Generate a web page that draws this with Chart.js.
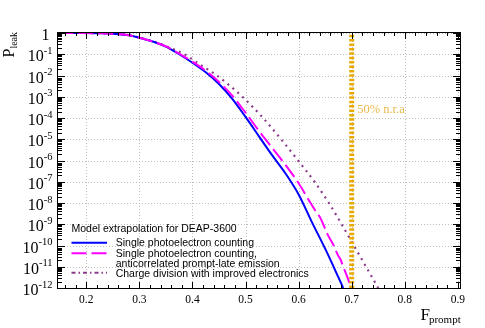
<!DOCTYPE html>
<html><head><meta charset="utf-8">
<script src="https://cdn.jsdelivr.net/npm/chart.js@4/dist/chart.umd.min.js"></script>
<style>html,body{margin:0;padding:0;background:#fff;overflow:hidden}</style>
</head><body>
<canvas id="c" width="485" height="328"></canvas>
<script>
// ---- data ----
const fSpe  = [0.147, 0.17, 0.20, 0.22, 0.25, 0.28, 0.30, 0.325, 0.35, 0.375, 0.40, 0.425, 0.45, 0.475, 0.50, 0.525, 0.55, 0.575, 0.60, 0.625, 0.65, 0.675, 0.684];
const pSpe  = [1, 1, 0.995, 0.977, 0.933, 0.776, 0.603, 0.398, 0.229, 0.1, 0.0398, 0.0141, 3.98e-3, 7.94e-4, 1.12e-4, 1.41e-5, 1.78e-6, 2.51e-7, 2.51e-8, 1.26e-9, 7.08e-11, 3.16e-12, 1e-12];
const fAnti = [0.147, 0.17, 0.20, 0.22, 0.25, 0.28, 0.30, 0.325, 0.35, 0.375, 0.40, 0.425, 0.45, 0.475, 0.50, 0.525, 0.55, 0.575, 0.60, 0.62, 0.634, 0.64, 0.655, 0.666, 0.675, 0.679, 0.684, 0.692, 0.699];
const pAnti = [1, 1, 0.995, 0.977, 0.933, 0.776, 0.603, 0.398, 0.234, 0.107, 0.0447, 0.0166, 5.01e-3, 1.12e-3, 1.78e-4, 2.51e-5, 3.98e-6, 6.31e-7, 8.51e-8, 1.26e-8, 3.5e-9, 2.2e-9, 3.16e-10, 1e-10, 3.16e-11, 2.2e-11, 1e-11, 3.16e-12, 1e-12];
const fCharge = [0.147, 0.17, 0.20, 0.22, 0.25, 0.28, 0.30, 0.325, 0.35, 0.385, 0.415, 0.446, 0.494, 0.533, 0.567, 0.599, 0.630, 0.657, 0.681, 0.704, 0.727, 0.750];
const pCharge = [1, 1, 0.995, 0.977, 0.933, 0.78, 0.61, 0.41, 0.24, 0.1, 0.0316, 0.01, 1e-3, 1e-4, 1e-5, 1e-6, 1e-7, 1e-8, 1e-9, 1e-10, 1e-11, 1e-12];
const nraF = [0.70, 0.70];
const nraP = [1e-12, 1];
const xTicks = [0.2, 0.3, 0.4, 0.5, 0.6, 0.7, 0.8, 0.9];
const xTickLabels = ['0.2', '0.3', '0.4', '0.5', '0.6', '0.7', '0.8', '0.9'];
const yExponents = [0, -1, -2, -3, -4, -5, -6, -7, -8, -9, -10, -11, -12];
const legendTitle = 'Model extrapolation for DEAP-3600';
const seriesNames = [
  ['Single photoelectron counting'],
  ['Single photoelectron counting,', 'anticorrelated prompt-late emission'],
  ['Charge division with improved electronics']
];
const nraLabel = '50% n.r.a';
const xTitle = ['F', 'prompt'];
const yTitle = ['P', 'leak'];

const pts = (xs, ys) => xs.map((x, i) => ({x: x, y: ys[i]}));
const SERIF = '"Liberation Serif", "Times New Roman", serif';
const SANS = '"Liberation Sans", Arial, sans-serif';

const gridPlugin = {
  id: 'gridPlugin',
  beforeDatasetsDraw(chart) {
    const ctx = chart.ctx, a = chart.chartArea;
    const xs = chart.scales.x, ys = chart.scales.y;
    ctx.save();
    ctx.strokeStyle = '#bdbdbd'; ctx.lineWidth = 1; ctx.setLineDash([1, 2]);
    ctx.beginPath();
    xTicks.forEach(v => {
      const px = Math.round(xs.getPixelForValue(v)) + 0.5;
      ctx.moveTo(px, a.bottom); ctx.lineTo(px, a.top);
    });
    yExponents.forEach(e => {
      const py = Math.round(ys.getPixelForValue(Math.pow(10, e))) + 0.5;
      ctx.moveTo(a.left, py); ctx.lineTo(a.right, py);
    });
    ctx.stroke();
    ctx.restore();
  }
};

const overlay = {
  id: 'overlay',
  afterDraw(chart) {
    const ctx = chart.ctx, a = chart.chartArea;
    const xs = chart.scales.x, ys = chart.scales.y;
    ctx.save();
    // frame
    ctx.strokeStyle = '#000'; ctx.lineWidth = 1;
    ctx.strokeRect(a.left - 0.5, a.top - 0.5, a.right - a.left + 1, a.bottom - a.top + 1);
    // x ticks (bottom & top)
    ctx.beginPath();
    for (let i = 8; i <= 90; i++) {
      const v = i / 100;
      if (i % 2 !== 0) continue;
      if (v < xs.min || v > xs.max) continue;
      const major = (i % 10 === 0);
      const len = major ? 6 : 3;
      const px = Math.round(xs.getPixelForValue(v)) + 0.5;
      ctx.moveTo(px, a.bottom); ctx.lineTo(px, a.bottom - len);
      ctx.moveTo(px, a.top); ctx.lineTo(px, a.top + len);
    }
    // y ticks (left & right)
    for (let n = -12; n <= 0; n++) {
      for (let k = 1; k <= 9; k++) {
        const v = k * Math.pow(10, n);
        if (v > 1.0001) break;
        const len = (k === 1) ? 7 : 4;
        const py = Math.round(ys.getPixelForValue(v)) + 0.5;
        ctx.moveTo(a.left, py); ctx.lineTo(a.left + len, py);
        ctx.moveTo(a.right, py); ctx.lineTo(a.right - len, py);
      }
    }
    ctx.stroke();

    // x tick labels
    ctx.fillStyle = '#000';
    ctx.font = '11.5px ' + SERIF;
    ctx.textAlign = 'center'; ctx.textBaseline = 'alphabetic';
    xTicks.forEach((v, i) => ctx.fillText(xTickLabels[i], xs.getPixelForValue(v), a.bottom + 15));

    // y tick labels
    const xr = 52.5;
    yExponents.forEach(e => {
      const py = ys.getPixelForValue(Math.pow(10, e));
      if (e === 0) {
        ctx.font = '16px ' + SERIF; ctx.textAlign = 'right';
        ctx.fillText('1', 49.5, py + 6.5);
        return;
      }
      const exp = String(e);
      ctx.font = '16px ' + SERIF; const wb = ctx.measureText('10').width;
      ctx.font = '10.5px ' + SERIF; const we = ctx.measureText(exp).width;
      const x0 = xr - wb - we;
      ctx.textAlign = 'left';
      ctx.font = '16px ' + SERIF; ctx.fillText('10', x0, py + 7);
      ctx.font = '10.5px ' + SERIF; ctx.fillText(exp, x0 + wb, py - 0.5);
    });

    // axis titles
    ctx.textAlign = 'left';
    ctx.font = '17px ' + SERIF; ctx.fillText(xTitle[0], 420.5, 320);
    const wF = ctx.measureText(xTitle[0]).width;
    ctx.font = '11px ' + SERIF; ctx.fillText(xTitle[1], 420.5 + wF - 1, 322.5);

    ctx.save();
    ctx.translate(13.5, 57.5); ctx.rotate(-Math.PI / 2);
    ctx.font = '16px ' + SERIF; ctx.fillText(yTitle[0], 0, 0);
    const wP = ctx.measureText(yTitle[0]).width;
    ctx.font = '10px ' + SERIF; ctx.fillText(yTitle[1], wP, 3.2);
    ctx.restore();

    // n.r.a label
    ctx.fillStyle = '#eab84c';
    ctx.font = '12.5px ' + SERIF;
    ctx.fillText(nraLabel, xs.getPixelForValue(nraF[0]) + 5.5, 113);

    // legend
    ctx.fillStyle = '#000';
    ctx.font = '10.5px ' + SANS;
    ctx.fillText(legendTitle, 71.5, 231.7);
    const ds = chart.data.datasets;
    const entries = [
      {d: ds[2], y: 242.7, lines: seriesNames[0], base: [246.2]},
      {d: ds[1], y: 253.3, lines: seriesNames[1], base: [256.7, 266.7]},
      {d: ds[3], y: 272.7, lines: seriesNames[2], base: [276.5]}
    ];
    entries.forEach((en, idx) => {
      ctx.save();
      ctx.strokeStyle = en.d.borderColor; ctx.lineWidth = 2;
      ctx.setLineDash(idx === 2 ? [4, 3, 1.5, 3] : (en.d.borderDash || []));
      ctx.beginPath(); ctx.moveTo(71.5, en.y); ctx.lineTo(107, en.y); ctx.stroke();
      ctx.restore();
      en.lines.forEach((t, j) => ctx.fillText(t, 115.7, en.base[j]));
    });
    ctx.restore();
  }
};

new Chart(document.getElementById('c'), {
  type: 'line',
  data: {
    datasets: [
      {label: nraLabel, data: pts(nraF, nraP), borderColor: '#e8a900', borderWidth: 5, borderDash: [2.5, 1.9], borderCapStyle: 'butt', pointRadius: 0, fill: false},
      {label: seriesNames[1].join(' '), data: pts(fAnti, pAnti), borderColor: '#ff00ff', borderWidth: 2, borderDash: [15, 5], pointRadius: 0, cubicInterpolationMode: 'monotone', fill: false},
      {label: seriesNames[0][0], data: pts(fSpe, pSpe), borderColor: '#0000ff', borderWidth: 2, pointRadius: 0, cubicInterpolationMode: 'monotone', fill: false},
      {label: seriesNames[2][0], data: pts(fCharge, pCharge), borderColor: '#8c3a8c', borderWidth: 2.2, borderDash: [2, 4.5], pointRadius: 0, cubicInterpolationMode: 'monotone', fill: false}
    ]
  },
  options: {
    responsive: false, animation: false, devicePixelRatio: 1,
    layout: {padding: {left: 0, top: 33, right: 25, bottom: 0}},
    plugins: {legend: {display: false}, tooltip: {enabled: false}},
    scales: {
      x: {
        type: 'linear', position: 'bottom', min: 0.1467, max: 0.904,
        afterFit(s) { s.height = 40; },
        ticks: {display: false},
        grid: {display: false, drawTicks: false},
        border: {display: false}
      },
      y: {
        type: 'logarithmic', position: 'left', min: 1e-12, max: 1,
        afterFit(s) { s.width = 58; },
        ticks: {display: false},
        grid: {display: false, drawTicks: false},
        border: {display: false}
      }
    }
  },
  plugins: [gridPlugin, overlay]
});
</script>
</body></html>
